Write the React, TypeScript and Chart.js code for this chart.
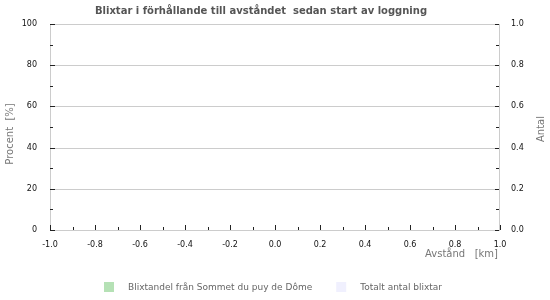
import React, { useEffect, useRef } from "react";
import { Chart, registerables } from "chart.js";

Chart.register(...registerables);

// ---- data ----
const chartTitle = "Blixtar i förhållande till avståndet  sedan start av loggning";
const xTitle = "Avstånd   [km]";
const yTitle = "Procent  [%]";
const y1Title = "Antal";
const seriesNames = ["Blixtandel från Sommet du puy de Dôme", "Totalt antal blixtar"];
const seriesColors = ["#b5e1b5", "#f0f0fe"];
const distances: number[] = [];
const shareValues: number[] = [];
const totalCounts: number[] = [];
const xRange = [-1, 1];
const yRange = [0, 100];
const y1Range = [0, 1];

const FONT = "'DejaVu Sans', sans-serif";

const decorPlugin = {
  id: "decor",
  beforeDatasetsDraw(chart: any) {
    const { ctx, chartArea: a } = chart;
    const y = chart.scales.y;
    ctx.save();
    ctx.strokeStyle = "#cccccc";
    ctx.lineWidth = 1;
    y.ticks.forEach((t: any, i: number) => {
      if (i % 2 !== 0) return;
      if (t.value === yRange[0] || t.value === yRange[1]) return;
      const py = Math.round(y.getPixelForValue(t.value)) + 0.5;
      ctx.beginPath();
      ctx.moveTo(a.left, py);
      ctx.lineTo(a.right, py);
      ctx.stroke();
    });
    ctx.restore();
  },
  afterDraw(chart: any) {
    const { ctx, chartArea: a } = chart;
    const { x, y, y1 } = chart.scales;
    ctx.save();
    // border
    ctx.strokeStyle = "#cccccc";
    ctx.lineWidth = 1;
    ctx.strokeRect(Math.round(a.left) + 0.5, Math.round(a.top) + 0.5, Math.round(a.right - a.left) - 1, Math.round(a.bottom - a.top));
    // tick marks
    ctx.strokeStyle = "#222222";
    y.ticks.forEach((t: any, i: number) => {
      const py = Math.round(y.getPixelForValue(t.value)) + 0.5;
      const len = i % 2 === 0 ? 5 : 3;
      ctx.beginPath();
      ctx.moveTo(a.left, py);
      ctx.lineTo(a.left + len, py);
      ctx.stroke();
    });
    y1.ticks.forEach((t: any, i: number) => {
      const py = Math.round(y1.getPixelForValue(t.value)) + 0.5;
      const len = i % 2 === 0 ? 4 : 3;
      ctx.beginPath();
      ctx.moveTo(a.right - 1, py);
      ctx.lineTo(a.right - 1 - len, py);
      ctx.stroke();
    });
    x.ticks.forEach((t: any, i: number) => {
      const px = Math.round(x.getPixelForValue(t.value)) + 0.5;
      const len = i % 2 === 0 ? 5 : 3;
      ctx.beginPath();
      ctx.moveTo(px, a.bottom);
      ctx.lineTo(px, a.bottom - len);
      ctx.stroke();
    });
    // title
    ctx.fillStyle = "#555555";
    ctx.font = `bold 10px ${FONT}`;
    ctx.textAlign = "center";
    ctx.textBaseline = "middle";
    ctx.fillText(chartTitle, 261, 11);
    // axis titles
    ctx.fillStyle = "#777777";
    ctx.font = `10px ${FONT}`;
    ctx.textAlign = "right";
    ctx.fillText(xTitle, a.right - 2, 254);
    ctx.save();
    ctx.translate(10, 134);
    ctx.rotate(-Math.PI / 2);
    ctx.textAlign = "center";
    ctx.fillText(yTitle, 0, 0);
    ctx.restore();
    ctx.save();
    ctx.translate(541, 129);
    ctx.rotate(-Math.PI / 2);
    ctx.textAlign = "center";
    ctx.fillText(y1Title, 0, 0);
    ctx.restore();
    // legend
    ctx.font = `9px ${FONT}`;
    ctx.textAlign = "left";
    const gapBoxText = 14;
    const gapItems = 24;
    const widths = seriesNames.map((n) => 10 + gapBoxText + ctx.measureText(n).width);
    const total = widths.reduce((s, w) => s + w, 0) + gapItems * (widths.length - 1);
    let lx = Math.round(273 - total / 2);
    seriesNames.forEach((n, i) => {
      ctx.fillStyle = seriesColors[i];
      ctx.fillRect(lx, 282, 10, 10);
      ctx.fillStyle = "#666666";
      ctx.fillText(n, lx + 10 + gapBoxText, 287.5);
      lx += widths[i] + gapItems;
    });
    ctx.restore();
  },
};

export default function App() {
  const ref = useRef<HTMLCanvasElement>(null);
  useEffect(() => {
    if (!ref.current) return;
    const tickFont = { family: FONT, size: 8 };
    const chart = new Chart(ref.current, {
      type: "bar",
      data: {
        labels: distances,
        datasets: [
          { label: seriesNames[0], data: shareValues, backgroundColor: seriesColors[0], yAxisID: "y" },
          { label: seriesNames[1], data: totalCounts, backgroundColor: seriesColors[1], yAxisID: "y1" },
        ],
      },
      options: {
        responsive: false,
        animation: false,
        layout: { padding: { top: 24, left: 0, right: 0, bottom: 0 } },
        plugins: { legend: { display: false }, title: { display: false }, tooltip: { enabled: false } },
        scales: {
          x: {
            type: "linear",
            offset: false,
            min: xRange[0],
            max: xRange[1],
            grid: { display: false, offset: false },
            border: { display: false },
            ticks: {
              stepSize: 0.1,
              autoSkip: false,
              maxRotation: 0,
              padding: 2,
              color: "#111111",
              font: tickFont,
              callback: (v: any, i: number) => (i % 2 === 0 ? Number(v).toFixed(1) : ""),
            },
            afterFit: (s: any) => { s.height = 70; },
          },
          y: {
            position: "left",
            min: yRange[0],
            max: yRange[1],
            grid: { display: false },
            border: { display: false },
            ticks: {
              stepSize: 10,
              autoSkip: false,
              padding: 5,
              color: "#111111",
              font: tickFont,
              callback: (v: any, i: number) => (i % 2 === 0 ? String(Math.round(Number(v))) : ""),
            },
            afterFit: (s: any) => { s.width = 50; },
          },
          y1: {
            position: "right",
            min: y1Range[0],
            max: y1Range[1],
            grid: { display: false },
            border: { display: false },
            ticks: {
              stepSize: 0.1,
              autoSkip: false,
              padding: 3,
              color: "#111111",
              font: tickFont,
              callback: (v: any, i: number) => (i % 2 === 0 ? Number(v).toFixed(1) : ""),
            },
            afterFit: (s: any) => { s.width = 50; },
          },
        },
      },
      plugins: [decorPlugin],
    });
    return () => chart.destroy();
  }, []);
  return (
    <canvas
      ref={ref}
      width={550}
      height={300}
      style={{ position: "absolute", left: 0, top: 0, width: 550, height: 300, display: "block" }}
    />
  );
}
